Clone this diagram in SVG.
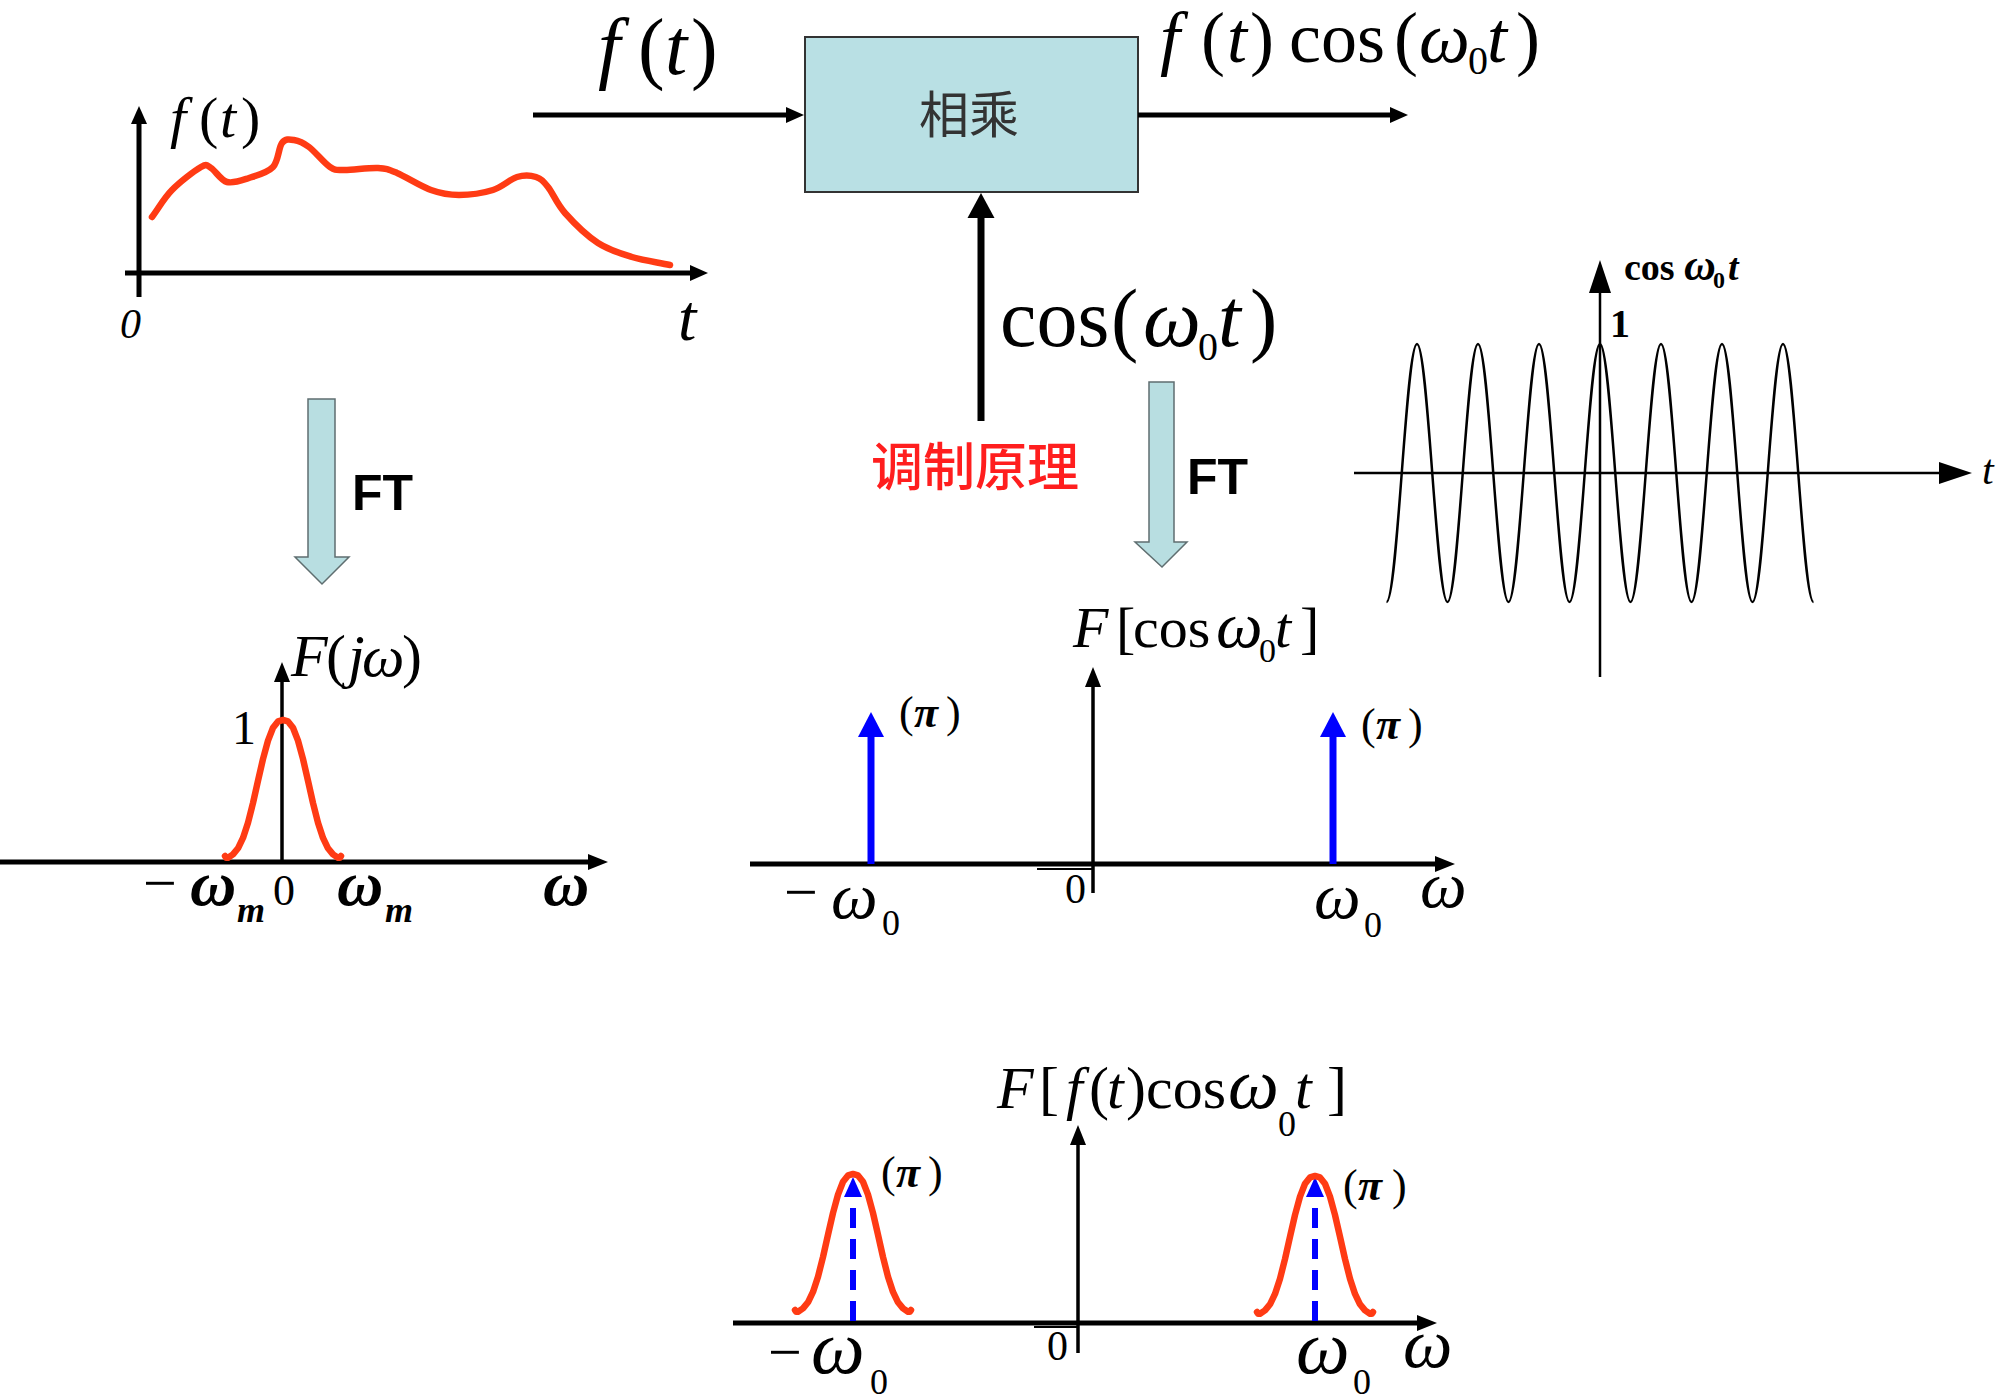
<svg xmlns="http://www.w3.org/2000/svg" width="2000" height="1399" viewBox="0 0 2000 1399">
<style>
.s{font-family:"Liberation Serif","Times New Roman",serif;fill:#000}
.i{font-style:italic}
.b{font-weight:bold}
.ft{font-family:"Liberation Sans",Arial,sans-serif;font-weight:bold;font-size:50px;fill:#000}
.ax{stroke:#000;fill:none}
.red{stroke:#ff3b14;stroke-width:6.5;fill:none;stroke-linejoin:round;stroke-linecap:round}
.ftarrow{fill:#b8dee1;stroke:#5f6e70;stroke-width:1.5}
</style>
<defs>
<marker id="a18" markerUnits="userSpaceOnUse" markerWidth="18" markerHeight="16" refX="0" refY="8" orient="auto" overflow="visible"><path d="M0,0 L18,8 L0,16 z" fill="#000"/></marker>
<marker id="a20" markerUnits="userSpaceOnUse" markerWidth="20" markerHeight="16" refX="0" refY="8" orient="auto" overflow="visible"><path d="M0,0 L20,8 L0,16 z" fill="#000"/></marker>
<marker id="a25" markerUnits="userSpaceOnUse" markerWidth="25" markerHeight="27" refX="0" refY="13.5" orient="auto" overflow="visible"><path d="M0,0 L25,13.5 L0,27 z" fill="#000"/></marker>
<marker id="a33" markerUnits="userSpaceOnUse" markerWidth="33" markerHeight="22" refX="0" refY="11" orient="auto" overflow="visible"><path d="M0,0 L33,11 L0,22 z" fill="#000"/></marker>
<marker id="ab" markerUnits="userSpaceOnUse" markerWidth="25" markerHeight="26" refX="0" refY="13" orient="auto" overflow="visible"><path d="M0,0 L25,13 L0,26 z" fill="#0000ff"/></marker>
<marker id="ab2" markerUnits="userSpaceOnUse" markerWidth="20" markerHeight="18" refX="0" refY="9" orient="auto" overflow="visible"><path d="M0,0 L20,9 L0,18 z" fill="#0000ff"/></marker>
<path id="bump" d="M-58,-10 L-57,-8.3 L-55,-8.3 L-50,-11.6 L-45,-17.7 L-40,-28.1 L-35,-43.3 L-30,-63 L-25,-85.2 L-20,-107 L-15,-125.4 L-10,-138.2 L-5,-144.6 L0,-146 L5,-144.6 L10,-138.2 L15,-125.4 L20,-107 L25,-85.2 L30,-63 L35,-43.3 L40,-28.1 L45,-17.7 L50,-11.6 L55,-8.3 L57,-8.3 L58,-10"/>
</defs>
<rect width="2000" height="1399" fill="#fff"/>

<!-- time signal f(t) -->
<g id="plot-ft">
<line class="ax" x1="139" y1="297" x2="139" y2="124" stroke-width="5" marker-end="url(#a18)"/>
<line class="ax" x1="125" y1="273" x2="690" y2="273" stroke-width="5" marker-end="url(#a18)"/>
<path class="red" d="M152,217 C158.7,208 163.8,198.3 172,190 C180.2,181.7 194.5,170.7 201,167 C207.5,163.3 206.7,165.5 211,168 C215.3,170.5 220.7,180.3 227,182 C233.3,183.7 241.3,180.5 249,178 C256.7,175.5 267.5,172.8 273,167 C278.5,161.2 278.5,147.5 282,143 C285.5,138.5 289.5,139.3 294,140 C298.5,140.7 303,142.5 309,147 C315,151.5 324.2,163.2 330,167 C335.8,170.8 336,169.8 344,170 C352,170.2 369.2,167.5 378,168 C386.8,168.5 388.2,169.3 397,173 C405.8,176.7 420.7,186.3 431,190 C441.3,193.7 448.7,195 459,195 C469.3,195 483.3,193 493,190 C502.7,187 509.8,179.2 517,177 C524.2,174.8 530.8,175.3 536,177 C541.2,178.7 543.2,181 548,187 C552.8,193 556.7,203.7 565,213 C573.3,222.3 586.8,235.7 598,243 C609.2,250.3 620,253.3 632,257 C644,260.7 657.3,262.3 670,265"/>
<text class="s" font-size="58" y="137"><tspan class="i" x="170">f</tspan><tspan x="199">(</tspan><tspan class="i" x="220">t</tspan><tspan x="241">)</tspan></text>
<text class="s i" font-size="42" x="120" y="338">0</text>
<text class="s i" font-size="66" x="678" y="340">t</text>
</g>

<!-- multiplier block -->
<g id="multiplier">
<rect x="805" y="37" width="333" height="155" fill="#b9e0e4" stroke="#333" stroke-width="2"/>
<text x="969" y="133" text-anchor="middle" font-family="'Noto Sans CJK SC',sans-serif" font-size="50" fill="#333">相乘</text>
</g>

<!-- connectors -->
<g id="connectors">
<line class="ax" x1="533" y1="115" x2="786" y2="115" stroke-width="5" marker-end="url(#a18)"/>
<line class="ax" x1="1138" y1="115" x2="1390" y2="115" stroke-width="5" marker-end="url(#a18)"/>
<line class="ax" x1="981" y1="421" x2="981" y2="218" stroke-width="7" marker-end="url(#a25)"/>
</g>

<g id="label-in">
<text class="s" font-size="80" y="74"><tspan class="i" x="598">f</tspan><tspan x="638">(</tspan><tspan class="i" x="665">t</tspan><tspan x="691">)</tspan></text>
</g>
<g id="label-out">
<text class="s" font-size="72" y="62"><tspan class="i" x="1160">f</tspan><tspan x="1201">(</tspan><tspan class="i" x="1227">t</tspan><tspan x="1250">)</tspan><tspan x="1289">cos</tspan><tspan x="1394">(</tspan><tspan class="i" x="1419">ω</tspan><tspan x="1468" y="74" font-size="40">0</tspan><tspan class="i" x="1487" y="62">t</tspan><tspan x="1516">)</tspan></text>
</g>
<g id="label-carrier">
<text class="s" font-size="82" y="346"><tspan x="1000">cos</tspan><tspan x="1111">(</tspan><tspan class="i" x="1143">ω</tspan><tspan x="1198" y="360" font-size="40">0</tspan><tspan class="i" x="1218" y="346">t</tspan><tspan x="1250">)</tspan></text>
</g>
<g id="title">
<text x="871" y="486" font-family="'Noto Sans CJK SC',sans-serif" font-size="52" font-weight="500" fill="#ff1e1e">调制原理</text>
</g>

<!-- FT arrows -->
<g id="ft-left">
<path class="ftarrow" d="M308,399 L335,399 L335,557 L349,557 L322,584 L295,557 L308,557 Z"/>
<text class="ft" x="352" y="510">FT</text>
</g>
<g id="ft-mid">
<path class="ftarrow" d="M1149,382 L1174,382 L1174,542 L1187,542 L1162,567 L1135,542 L1149,542 Z"/>
<text class="ft" x="1187" y="494">FT</text>
</g>

<!-- carrier cos plot -->
<g id="plot-cos">
<line class="ax" x1="1600" y1="677" x2="1600" y2="293" stroke-width="2.5" marker-end="url(#a33)"/>
<line class="ax" x1="1354" y1="473" x2="1939" y2="473" stroke-width="2.5" marker-end="url(#a33)"/>
<path fill="none" stroke="#000" stroke-width="2.5" d="M1386.5,602 c11.08,0 19.42,-258 30.5,-258 s19.42,258 30.5,258 s19.42,-258 30.5,-258 s19.42,258 30.5,258 s19.42,-258 30.5,-258 s19.42,258 30.5,258 s19.42,-258 30.5,-258 s19.42,258 30.5,258 s19.42,-258 30.5,-258 s19.42,258 30.5,258 s19.42,-258 30.5,-258 s19.42,258 30.5,258 s19.42,-258 30.5,-258 s19.42,258 30.5,258"/>
<text class="s b" font-size="38" y="280"><tspan x="1624">cos</tspan><tspan class="i" x="1684" font-size="44">ω</tspan><tspan x="1713" y="288" font-size="24">0</tspan><tspan class="i" x="1728" y="280">t</tspan></text>
<text class="s b" font-size="40" x="1610" y="337">1</text>
<text class="s i" font-size="42" x="1982" y="484">t</text>
</g>

<!-- spectrum F(jw) -->
<g id="spec-f">
<line class="ax" x1="282" y1="862" x2="282" y2="682" stroke-width="3.5" marker-end="url(#a20)"/>
<line class="ax" x1="0" y1="862" x2="588" y2="862" stroke-width="5" marker-end="url(#a20)"/>
<use href="#bump" class="red" transform="translate(283,866)"/>
<text class="s" font-size="60" y="676"><tspan class="i" x="291">F</tspan><tspan x="326">(</tspan><tspan class="i" x="348">j</tspan><tspan class="i" x="362">ω</tspan><tspan x="402">)</tspan></text>
<text class="s" font-size="48" x="232" y="744">1</text>
<text class="s" font-size="60" x="143" y="903">−</text>
<text class="s i b" font-size="64" x="190" y="905">ω</text>
<text class="s i b" font-size="36" x="237" y="922">m</text>
<text class="s" font-size="44" x="273" y="905">0</text>
<text class="s i b" font-size="64" x="337" y="905">ω</text>
<text class="s i b" font-size="36" x="385" y="922">m</text>
<text class="s i b" font-size="64" x="543" y="905">ω</text>
</g>

<!-- spectrum of cos -->
<g id="spec-cos">
<line class="ax" x1="1093" y1="893" x2="1093" y2="687" stroke-width="3.5" marker-end="url(#a20)"/>
<line class="ax" x1="750" y1="864" x2="1435" y2="864" stroke-width="5" marker-end="url(#a20)"/>
<line class="ax" x1="1037" y1="869" x2="1093" y2="869" stroke-width="2"/>
<line x1="871" y1="864" x2="871" y2="737" stroke="#0000ff" stroke-width="7" marker-end="url(#ab)"/>
<line x1="1333" y1="864" x2="1333" y2="737" stroke="#0000ff" stroke-width="7" marker-end="url(#ab)"/>
<text class="s" font-size="58" y="647"><tspan class="i" x="1073">F</tspan><tspan x="1116">[</tspan><tspan x="1133">cos</tspan><tspan class="i" x="1216" font-size="66">ω</tspan><tspan x="1259" y="662" font-size="34">0</tspan><tspan class="i" x="1275" y="647">t</tspan><tspan x="1300">]</tspan></text>
<text class="s" font-size="44" y="727"><tspan x="899">(</tspan><tspan class="i b" x="914">π</tspan><tspan x="946">)</tspan></text>
<text class="s" font-size="44" y="739"><tspan x="1361">(</tspan><tspan class="i b" x="1376">π</tspan><tspan x="1408">)</tspan></text>
<text class="s" font-size="60" x="784" y="912">−</text>
<text class="s i" font-size="66" x="831" y="918">ω</text>
<text class="s" font-size="36" x="882" y="935">0</text>
<text class="s" font-size="42" x="1065" y="903">0</text>
<text class="s i" font-size="66" x="1314" y="918">ω</text>
<text class="s" font-size="36" x="1364" y="937">0</text>
<text class="s i" font-size="66" x="1420" y="907">ω</text>
</g>

<!-- spectrum of modulated signal -->
<g id="spec-mod">
<line class="ax" x1="1078" y1="1353" x2="1078" y2="1145" stroke-width="3.5" marker-end="url(#a20)"/>
<line class="ax" x1="733" y1="1323" x2="1417" y2="1323" stroke-width="5" marker-end="url(#a20)"/>
<line class="ax" x1="1034" y1="1327" x2="1078" y2="1327" stroke-width="2"/>
<line x1="853" y1="1321" x2="853" y2="1197" stroke="#0000ff" stroke-width="6" stroke-dasharray="20 11" marker-end="url(#ab2)"/>
<line x1="1315" y1="1321" x2="1315" y2="1197" stroke="#0000ff" stroke-width="6" stroke-dasharray="20 11" marker-end="url(#ab2)"/>
<use href="#bump" class="red" transform="translate(853,1320)"/>
<use href="#bump" class="red" transform="translate(1315,1322)"/>
<text class="s" font-size="60" y="1108"><tspan class="i" x="997">F</tspan><tspan x="1039">[</tspan><tspan class="i" x="1066">f</tspan><tspan x="1089">(</tspan><tspan class="i" x="1107">t</tspan><tspan x="1126">)</tspan><tspan x="1146">cos</tspan><tspan class="i" x="1228" font-size="72">ω</tspan><tspan x="1278" y="1136" font-size="36">0</tspan><tspan class="i" x="1295" y="1108">t</tspan><tspan x="1327">]</tspan></text>
<text class="s" font-size="44" y="1187"><tspan x="881">(</tspan><tspan class="i b" x="896">π</tspan><tspan x="928">)</tspan></text>
<text class="s" font-size="44" y="1200"><tspan x="1343">(</tspan><tspan class="i b" x="1358">π</tspan><tspan x="1392">)</tspan></text>
<text class="s" font-size="60" x="768" y="1372">−</text>
<text class="s i" font-size="76" x="811" y="1373">ω</text>
<text class="s" font-size="36" x="870" y="1394">0</text>
<text class="s" font-size="42" x="1047" y="1360">0</text>
<text class="s i" font-size="76" x="1296" y="1373">ω</text>
<text class="s" font-size="36" x="1353" y="1394">0</text>
<text class="s i" font-size="70" x="1403" y="1367">ω</text>
</g>
</svg>
